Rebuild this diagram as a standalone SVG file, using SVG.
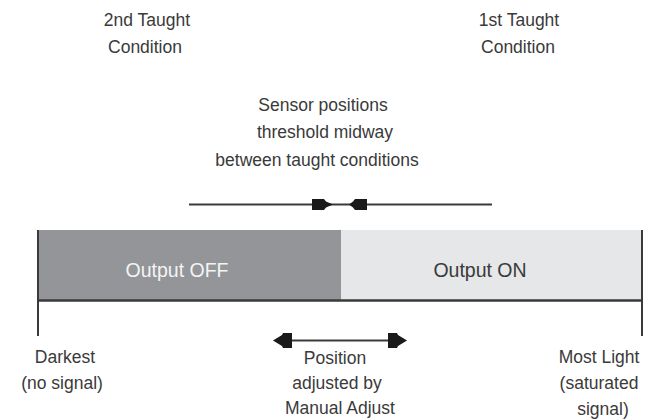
<svg xmlns="http://www.w3.org/2000/svg" width="649" height="420" viewBox="0 0 649 420">
<style>
.t{font-family:"Liberation Sans",Arial,sans-serif;font-size:17.5px;fill:#3a3a3a;text-anchor:middle}
.big{font-size:19.5px}
.ln{stroke:#3a3a3a;stroke-width:2;fill:none}
.ah{fill:#1a1a1a}
</style>
<rect width="649" height="420" fill="#fff"/>
<g id="bar">
<rect x="38" y="230" width="303" height="71" fill="#939598"/>
<rect x="341" y="230" width="301" height="71" fill="#e6e7e8"/>
<text class="t big" x="177" y="277" fill="#f4f4f4" style="fill:#f4f4f4">Output OFF</text>
<text class="t big" x="480" y="277">Output ON</text>
</g>
<g id="connectors">
<line class="ln" x1="38" y1="230" x2="38" y2="336"/>
<line class="ln" x1="642" y1="230" x2="642" y2="336"/>
<line class="ln" x1="38" y1="300.5" x2="642" y2="300.5" style="stroke-width:2.5"/>
<line class="ln" x1="189" y1="204.5" x2="492" y2="204.5"/>
<polygon class="ah" points="312,199 324,199 326,201.5 333,204.5 326,207.5 324,210 312,210"/>
<polygon class="ah" points="367,199 355,199 353,201.5 349,204.5 353,207.5 355,210 367,210"/>
<line class="ln" x1="278" y1="340.5" x2="402" y2="340.5"/>
<polygon class="ah" points="273,340.5 282,335 283,333 292,333 292,348 283,348 282,346"/>
<polygon class="ah" points="407,340.5 398,335 397,333 388,333 388,348 397,348 398,346"/>
</g>
<g id="taught2">
<text class="t" x="147" y="26">2nd Taught</text>
<text class="t" x="145" y="53">Condition</text>
</g>
<g id="taught1">
<text class="t" x="519" y="26">1st Taught</text>
<text class="t" x="518" y="53">Condition</text>
</g>
<g id="threshold">
<text class="t" x="323" y="111">Sensor positions</text>
<text class="t" x="325" y="138">threshold midway</text>
<text class="t" x="317" y="166">between taught conditions</text>
</g>
<g id="darkest">
<text class="t" x="65" y="363">Darkest</text>
<text class="t" x="62" y="389">(no signal)</text>
</g>
<g id="mostlight">
<text class="t" x="599" y="363">Most Light</text>
<text class="t" x="599" y="389">(saturated</text>
<text class="t" x="603" y="415">signal)</text>
</g>
<g id="manual">
<text class="t" x="335" y="364">Position</text>
<text class="t" x="337" y="389">adjusted by</text>
<text class="t" x="340" y="414">Manual Adjust</text>
</g>
</svg>
